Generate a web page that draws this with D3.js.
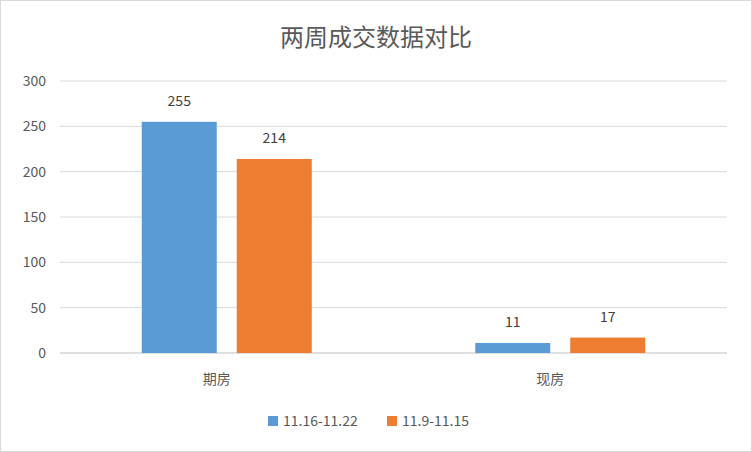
<!DOCTYPE html>
<html><head><meta charset="utf-8"><script src="https://cdn.jsdelivr.net/npm/d3@7"></script>
<style>body{margin:0;background:#fff}text{font-family:"Noto Sans CJK SC","Noto Sans",sans-serif}</style></head>
<body><svg id="c" width="752" height="452"></svg>
<script>
const categories=["期房","现房"];
const seriesNames=["11.16-11.22","11.9-11.15"];
const seriesA=[255,11];
const seriesB=[214,17];
const yTicks=[0,50,100,150,200,250,300];
const colors=["#5b9bd5","#ed7d31"];
const svg=d3.select("#c");
svg.append("rect").attr("x",0.5).attr("y",0.5).attr("width",751).attr("height",451).attr("fill","#fff").attr("stroke","#d9d9d9");
svg.append("text").attr("x",376).attr("y",46).attr("text-anchor","middle").attr("font-size",24).attr("fill","#595959").text("两周成交数据对比");
const x=d3.scaleBand().domain(categories).range([60,727]);
const y=d3.scaleLinear().domain([0,300]).range([353,81]);
const g=svg.append("g");
yTicks.forEach(t=>{
 g.append("line").attr("x1",60).attr("x2",727).attr("y1",y(t)).attr("y2",y(t)).attr("stroke",t===0?"#bfbfbf":"#d9d9d9");
 g.append("text").attr("x",46).attr("y",y(t)+5).attr("text-anchor","end").attr("font-size",14).attr("fill","#595959").text(t);
});
const bw=75,gap=20;
[seriesA,seriesB].forEach((s,si)=>{
 s.forEach((v,i)=>{
  const cx=x(categories[i])+x.bandwidth()/2;
  const bx=cx-bw-gap/2+si*(bw+gap);
  g.append("rect").attr("x",bx).attr("y",y(v)).attr("width",bw).attr("height",y(0)-y(v)).attr("fill",colors[si]);
  g.append("text").attr("x",bx+bw/2).attr("y",y(v)-16).attr("text-anchor","middle").attr("font-size",14).attr("fill","#404040").text(v);
 });
});
categories.forEach(c=>{
 g.append("text").attr("x",x(c)+x.bandwidth()/2-10).attr("y",384).attr("text-anchor","middle").attr("font-size",14).attr("fill","#595959").text(c);
});
const lg=svg.append("g");
const lx=[268,387];
seriesNames.forEach((n,i)=>{
 lg.append("rect").attr("x",lx[i]).attr("y",416).attr("width",10).attr("height",10).attr("fill",colors[i]);
 lg.append("text").attr("x",lx[i]+15).attr("y",426).attr("font-size",14).attr("fill","#595959").text(n);
});
</script></body></html>
